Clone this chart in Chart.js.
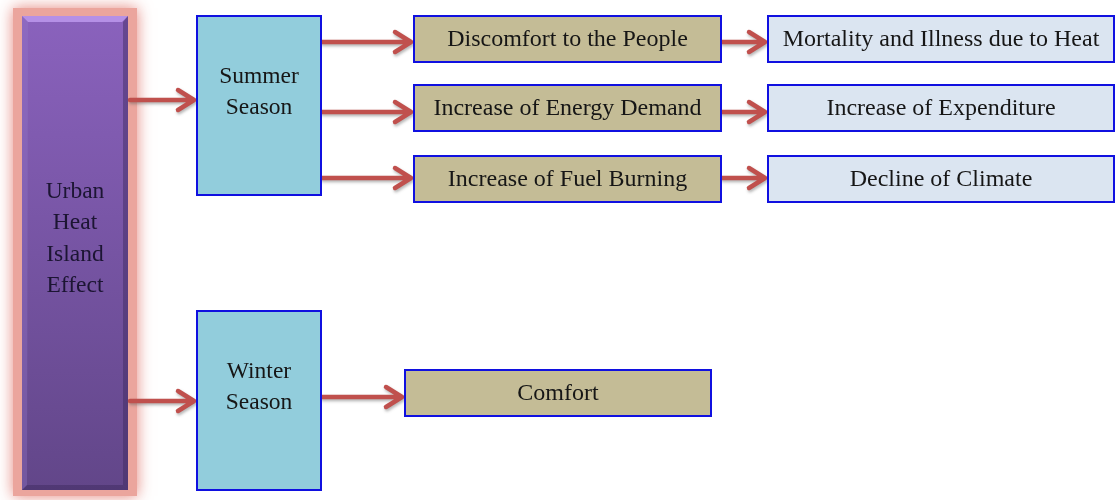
<!DOCTYPE html>
<html>
<head>
<meta charset="utf-8">
<script src="https://cdn.jsdelivr.net/npm/chart.js@4"></script>
<style>
  html, body { margin: 0; padding: 0; background: #ffffff; }
  #wrap { width: 1115px; height: 500px; }
</style>
</head>
<body>
<div id="wrap"><canvas id="flow" width="1115" height="500"></canvas></div>
<script>
// node texts
const rootLabel = ['Urban', 'Heat', 'Island', 'Effect'];
const seasonLabels = [['Summer', 'Season'], ['Winter', 'Season']];
const summerEffects = ['Discomfort to the People', 'Increase of Energy Demand', 'Increase of Fuel Burning'];
const summerOutcomes = ['Mortality and Illness due to Heat', 'Increase of Expenditure', 'Decline of Climate'];
const winterEffects = ['Comfort'];

// layout (in axis units, x 0..1115, y 0..500 top-down)
const rootBox = { x0: 22, x1: 128, y0: 16, y1: 490 };
const seasonBoxes = [
    { x0: 197, x1: 321, y0: 16, y1: 195 },
    { x0: 197, x1: 321, y0: 311, y1: 490 }
];
const effectRows = [[16, 62], [85, 131], [156, 202]];
const effectX = [414, 721];
const outcomeX = [768, 1114];
const winterBox = { x0: 405, x1: 711, y0: 370, y1: 416 };

const FONT = '"Liberation Serif", "Times New Roman", serif';

function drawArrow(ctx, xs, ys, x0, x1, y) {
    const a = xs.getPixelForValue(x0), b = xs.getPixelForValue(x1), p = ys.getPixelForValue(y);
    ctx.save();
    ctx.shadowColor = 'rgba(90,90,90,0.45)';
    ctx.shadowBlur = 3;
    ctx.shadowOffsetX = 1;
    ctx.shadowOffsetY = 2;
    ctx.strokeStyle = '#c0504d';
    ctx.lineWidth = 4.5;
    ctx.lineCap = 'round';
    ctx.lineJoin = 'round';
    ctx.beginPath();
    ctx.moveTo(a, p);
    ctx.lineTo(b - 2, p);
    ctx.moveTo(b - 18, p - 10);
    ctx.lineTo(b - 2, p);
    ctx.lineTo(b - 18, p + 10);
    ctx.stroke();
    ctx.restore();
}

function drawBox(ctx, xs, ys, box, fill, lines, size, gap) {
    const l = xs.getPixelForValue(box.x0), r = xs.getPixelForValue(box.x1);
    const t = ys.getPixelForValue(box.y0), b = ys.getPixelForValue(box.y1);
    ctx.save();
    ctx.fillStyle = fill;
    ctx.fillRect(l, t, r - l, b - t);
    ctx.strokeStyle = '#1010e0';
    ctx.lineWidth = 2;
    ctx.strokeRect(l, t, r - l, b - t);
    ctx.restore();
    const cy = box.textY !== undefined ? ys.getPixelForValue(box.textY) : (t + b) / 2 + 1;
    drawText(ctx, lines, (l + r) / 2, cy, size, gap, '#161616');
}

function drawText(ctx, lines, cx, cy, size, gap, color) {
    ctx.save();
    ctx.fillStyle = color;
    ctx.font = size + 'px ' + FONT;
    ctx.textAlign = 'center';
    ctx.textBaseline = 'middle';
    const start = cy - (lines.length - 1) * gap / 2;
    lines.forEach((s, i) => ctx.fillText(s, cx, start + i * gap));
    ctx.restore();
}

const flowPlugin = {
    id: 'flow',
    afterDatasetsDraw(chart) {
        const ctx = chart.ctx;
        const xs = chart.scales.x, ys = chart.scales.y;

        // root column with glow
        const l = xs.getPixelForValue(rootBox.x0), r = xs.getPixelForValue(rootBox.x1);
        const t = ys.getPixelForValue(rootBox.y0), b = ys.getPixelForValue(rootBox.y1);
        ctx.save();
        ctx.shadowColor = 'rgba(225,120,110,0.9)';
        ctx.shadowBlur = 14;
        ctx.fillStyle = '#eba59d';
        ctx.fillRect(l - 9, t - 8, r - l + 18, b - t + 14);
        ctx.restore();

        ctx.save();
        const g = ctx.createLinearGradient(0, t, 0, b);
        g.addColorStop(0, '#8a62bd');
        g.addColorStop(1, '#624689');
        ctx.fillStyle = g;
        ctx.fillRect(l, t, r - l, b - t);
        // bevel edges
        ctx.fillStyle = '#b590e6';
        ctx.beginPath();
        ctx.moveTo(l, t); ctx.lineTo(r, t); ctx.lineTo(r - 6, t + 6); ctx.lineTo(l + 6, t + 6); ctx.closePath();
        ctx.fill();
        ctx.fillStyle = 'rgba(60,40,90,0.45)';
        ctx.beginPath();
        ctx.moveTo(r, t); ctx.lineTo(r, b); ctx.lineTo(r - 5, b - 5); ctx.lineTo(r - 5, t + 6); ctx.closePath();
        ctx.fill();
        ctx.beginPath();
        ctx.moveTo(l, b); ctx.lineTo(r, b); ctx.lineTo(r - 5, b - 5); ctx.lineTo(l + 5, b - 5); ctx.closePath();
        ctx.fill();
        ctx.fillStyle = 'rgba(150,120,200,0.35)';
        ctx.beginPath();
        ctx.moveTo(l, t); ctx.lineTo(l + 6, t + 6); ctx.lineTo(l + 5, b - 5); ctx.lineTo(l, b); ctx.closePath();
        ctx.fill();
        ctx.restore();
        drawText(ctx, rootLabel, (l + r) / 2, ys.getPixelForValue(239), 23.5, 31.5, '#1c1533');

        // arrows
        const seasonMid = [100, 401];
        seasonMid.forEach(y => drawArrow(ctx, xs, ys, rootBox.x1 + 2, seasonBoxes[0].x0 - 1, y));
        const summerArrowY = [42, 112, 178];
        summerArrowY.forEach(y => drawArrow(ctx, xs, ys, seasonBoxes[0].x1 + 1, effectX[0] - 1, y));
        summerArrowY.forEach(y => drawArrow(ctx, xs, ys, effectX[1] + 1, outcomeX[0] - 1, y));
        drawArrow(ctx, xs, ys, seasonBoxes[1].x1 + 1, winterBox.x0 - 1, 397);

        // season boxes
        seasonLabels.forEach((lines, i) => {
            const box = Object.assign({}, seasonBoxes[i], { textY: seasonBoxes[i].y0 + 76 });
            drawBox(ctx, xs, ys, box, '#92cddc', lines, 23.5, 31);
        });

        // summer chain
        summerEffects.forEach((s, i) => {
            const box = { x0: effectX[0], x1: effectX[1], y0: effectRows[i][0], y1: effectRows[i][1] };
            drawBox(ctx, xs, ys, box, '#c4bc96', [s], 24, 0);
        });
        summerOutcomes.forEach((s, i) => {
            const box = { x0: outcomeX[0], x1: outcomeX[1], y0: effectRows[i][0], y1: effectRows[i][1] };
            drawBox(ctx, xs, ys, box, '#dbe5f1', [s], 24, 0);
        });

        // winter chain
        winterEffects.forEach(s => drawBox(ctx, xs, ys, winterBox, '#c4bc96', [s], 24, 0));
    }
};

new Chart(document.getElementById('flow'), {
    type: 'scatter',
    data: { datasets: [{ data: [], pointRadius: 0 }] },
    options: {
        responsive: false,
        animation: false,
        events: [],
        layout: { padding: 0 },
        plugins: { legend: { display: false }, tooltip: { enabled: false } },
        scales: {
            x: { type: 'linear', min: 0, max: 1115, display: false },
            y: { type: 'linear', min: 0, max: 500, reverse: true, display: false }
        }
    },
    plugins: [flowPlugin]
});
</script>
</body>
</html>
